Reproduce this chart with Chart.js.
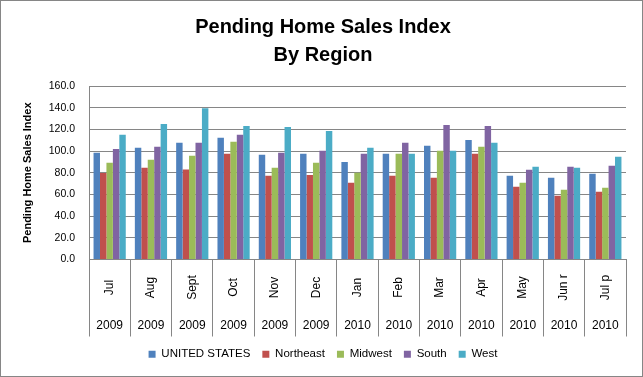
<!DOCTYPE html>
<html>
<head>
<meta charset="utf-8">
<script src="https://cdn.jsdelivr.net/npm/chart.js@4"></script>
<style>
  html, body { margin: 0; padding: 0; background: #fff; }
  #wrap { width: 643px; height: 377px; }
</style>
</head>
<body>
<div id="wrap"><canvas id="myChart"></canvas></div>
<script>
const months = ['Jul', 'Aug', 'Sept', 'Oct', 'Nov', 'Dec', 'Jan', 'Feb', 'Mar', 'Apr', 'May', 'Jun r', 'Jul p'];
const years = ['2009', '2009', '2009', '2009', '2009', '2009', '2010', '2010', '2010', '2010', '2010', '2010', '2010'];
const unitedStates = [98.4, 103.0, 107.6, 112.2, 96.5, 97.5, 90.0, 97.5, 104.8, 110.3, 77.2, 75.4, 79.1];
const northeast = [79.7, 84.6, 83.0, 97.5, 77.2, 78.0, 70.8, 77.2, 75.4, 97.5, 67.1, 58.9, 62.5];
const midwest = [89.2, 92.0, 95.6, 108.5, 84.6, 89.2, 80.0, 97.5, 100.2, 104.0, 70.8, 64.4, 66.2];
const south = [102.0, 104.0, 107.6, 115.0, 98.4, 100.2, 97.5, 107.6, 124.1, 123.2, 82.8, 85.5, 86.4];
const west = [115.0, 125.0, 139.5, 123.2, 122.3, 118.6, 103.0, 97.5, 100.2, 107.6, 85.5, 84.6, 94.7];
const yTicks = [0, 20, 40, 60, 80, 100, 120, 140, 160];

const gridGray = '#868686';
const font = "'Liberation Sans', Arial, sans-serif";

// border round the whole chart, plus the two rows of category labels
const frame = {
  id: 'frame',
  beforeDraw(chart) {
    const c = chart.ctx;
    c.save();
    c.fillStyle = '#fff';
    c.fillRect(0, 0, chart.width, chart.height);
    c.strokeStyle = gridGray;
    c.lineWidth = 1;
    c.strokeRect(0.5, 0.5, chart.width - 1, chart.height - 1);
    c.restore();
  },
  afterDraw(chart) {
    const c = chart.ctx;
    const x = chart.scales.x;
    c.save();
    c.fillStyle = '#000';
    c.font = '12px ' + font;
    c.textAlign = 'center';
    c.textBaseline = 'middle';
    months.forEach((m, i) => {
      const px = x.getPixelForValue(i);
      c.save();
      c.translate(px, x.top + 28);
      c.rotate(-Math.PI / 2);
      c.fillText(m, 0, 0);
      c.restore();
      c.fillText(years[i], px, x.top + 66);
    });
    c.restore();
  }
};

const ctx = document.getElementById('myChart').getContext('2d');
new Chart(ctx, {
  type: 'bar',
  data: {
    labels: months,
    datasets: [
      { label: 'UNITED STATES', backgroundColor: '#4F81BD', data: unitedStates },
      { label: 'Northeast', backgroundColor: '#C0504D', data: northeast },
      { label: 'Midwest', backgroundColor: '#9BBB59', data: midwest },
      { label: 'South', backgroundColor: '#8064A2', data: south },
      { label: 'West', backgroundColor: '#4BACC6', data: west }
    ]
  },
  options: {
    responsive: true,
    maintainAspectRatio: false,
    animation: false,
    layout: { padding: { left: 20, right: 17, top: 0, bottom: 7 } },
    datasets: {
      bar: { barPercentage: 1.0, categoryPercentage: 0.78 }
    },
    scales: {
      y: {
        min: 0,
        max: 160,
        afterBuildTicks: (s) => { s.ticks = yTicks.map(v => ({ value: v })); },
        afterFit: (s) => { s.width = 69; },
        ticks: {
          color: '#000',
          font: { size: 10.5, family: font },
          padding: 14,
          callback: (v) => Number(v).toFixed(1)
        },
        grid: { color: gridGray, drawTicks: false },
        border: { color: gridGray },
        title: {
          display: true,
          text: 'Pending Home Sales Index',
          color: '#000',
          font: { size: 11, weight: 'bold', family: font },
          padding: { top: 1, bottom: 0 }
        }
      },
      x: {
        afterFit: (s) => { s.height = 77; },
        ticks: { display: false },
        grid: {
          offset: true,
          drawOnChartArea: false,
          color: gridGray,
          tickLength: 77
        },
        border: { color: gridGray }
      }
    },
    plugins: {
      title: {
        display: true,
        text: ['Pending Home Sales Index', 'By Region'],
        color: '#000',
        font: { size: 20, weight: 'bold', family: font, lineHeight: 1.4 },
        padding: { top: 13, bottom: 17 }
      },
      legend: {
        position: 'bottom',
        labels: {
          color: '#000',
          boxWidth: 7,
          boxHeight: 7,
          padding: 12,
          font: { size: 11.5, family: font }
        }
      },
      tooltip: { enabled: true }
    }
  },
  plugins: [frame]
});
</script>
</body>
</html>
